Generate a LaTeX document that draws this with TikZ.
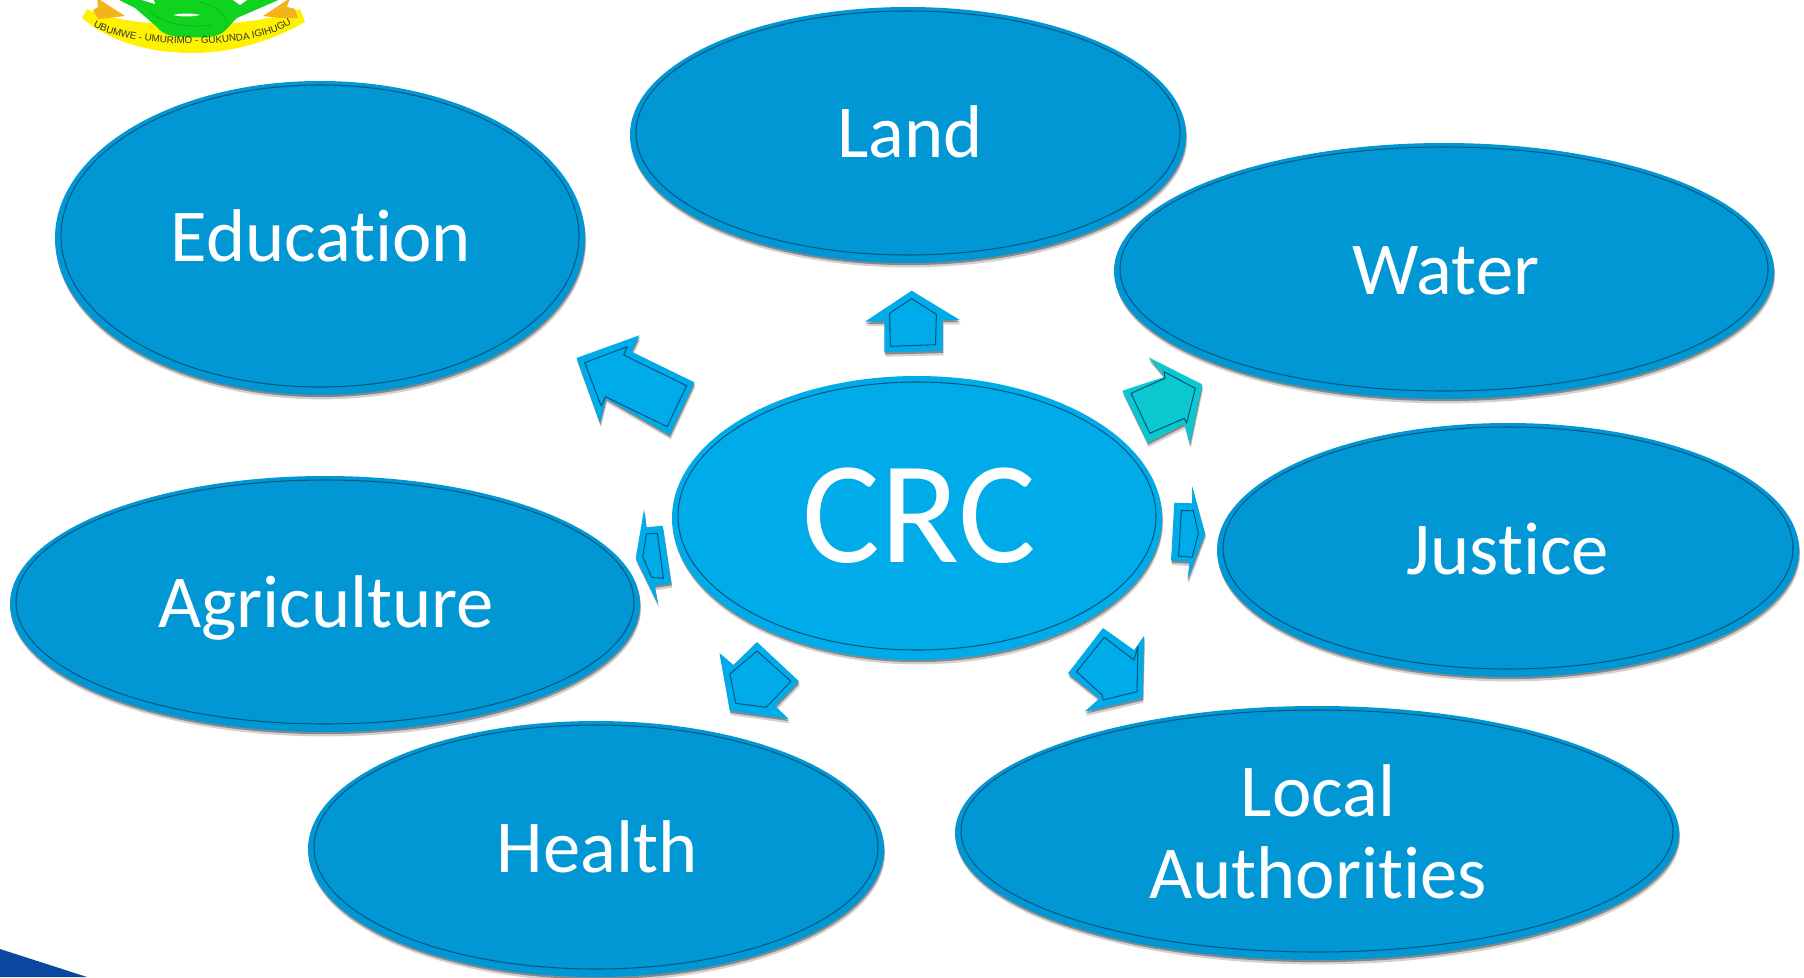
\documentclass[tikz,border=0pt]{standalone}
\usepackage{fontspec}
\usepackage{tikz}
\usetikzlibrary{shapes.geometric}
\usetikzlibrary{shadows}
\usetikzlibrary{decorations.text}
\setmainfont[Ligatures=NoCommon]{Carlito}
\newfontfamily\mottofont{Liberation Sans}
\definecolor{sectorblue}{HTML}{0097D4}
\definecolor{corecyan}{HTML}{00ABEA}
\definecolor{arrowteal}{HTML}{0BC8D0}
\definecolor{ringdark}{HTML}{00597F}
\definecolor{cornerblue}{HTML}{0A479F}
\definecolor{knotgreen}{HTML}{0FD31F}
\definecolor{knotdark}{HTML}{0BB81A}
\definecolor{ribbonyellow}{HTML}{FFF200}
\definecolor{ribbonorange}{HTML}{F3B41B}
\tikzset{
    softshadow/.style={drop shadow={shadow xshift=0.6pt,shadow yshift=-2.5pt,opacity=.18,fill=black},
        drop shadow={shadow xshift=0.3pt,shadow yshift=-1.2pt,opacity=.35,fill=black}},
    sector/.style={ellipse,fill=sectorblue,inner sep=0pt,softshadow},
    core/.style={sector,fill=corecyan},
    sectorlabel/.style={inner sep=0pt,text=white,align=center,font=\fontsize{42.5}{47}\selectfont},
    corelabel/.style={sectorlabel,font=\fontsize{83}{83}\selectfont},
    ring/.style={draw=ringdark,line width=0.6pt},
    blockarrow/.style={fill=corecyan,softshadow},
    tealarrow/.style={fill=arrowteal,softshadow},
}
\begin{document}
\begin{tikzpicture}[line cap=round,line join=round,x=0.02cm,y=-0.02cm]
        \useasboundingbox (0,0) rectangle (1804,977);

        \begin{scope}
            \clip (0,0) rectangle (1804,977);

            \fill[ribbonyellow] (82,18) -- (87,9) .. controls (130,30) and (250,30) .. (300,9)
                -- (305,22) .. controls (270,42) and (230,53) .. (193,53)
                .. controls (150,53) and (110,42) .. (82,18) -- cycle;
            \fill[ribbonorange] (97,-2) -- (125,16) -- (108,18) -- (98,19) -- (93,10) -- (98,7) -- cycle;
            \fill[ribbonorange] (290,-2) -- (263,16) -- (280,18) -- (298,18) -- (295,9) -- (287,7) -- cycle;
            \fill[knotgreen] (115,-2) -- (135,8) -- (157,27) .. controls (162,34) and (172,37) .. (183,37)
                .. controls (200,38) and (214,38) .. (222,33) .. controls (230,27) and (232,22) .. (237,18)
                -- (283,-2) -- cycle;
            \fill[white] (135,-2) -- (155,4) -- (153,-2) -- cycle;
            \fill[white] (230,-2) -- (240,5) -- (250,-2) -- cycle;
            \fill[white] (173,15) .. controls (182,13) and (192,13) .. (200,15) .. controls (192,17) and (182,17) .. (173,15) -- cycle;
            \draw[knotdark,line width=0.5pt] (150,12) .. controls (165,24) and (185,28) .. (212,25);
            \draw[knotdark,line width=0.5pt] (200,2) .. controls (218,8) and (230,14) .. (225,30);
            \path[decorate,decoration={text along path,text align=center,
                text={|\mottofont\fontsize{5.6}{6}\selectfont\color{black!80}|UBUMWE - UMURIMO - GUKUNDA IGIHUGU}}]
                (94,27) .. controls (130,48) and (250,52) .. (291,24);

            \fill[cornerblue] (0,949) -- (87,977) -- (0,977) -- cycle;

            \node[sector,minimum width=556*0.02cm,minimum height=256*0.02cm] (land) at (908,135) {};
            \draw[ring] (908,133) ellipse (272 and 122);
            \node[sectorlabel] (landtext) at (910,131.5) {Land};
            \node[sector,minimum width=530*0.02cm,minimum height=314*0.02cm] (education) at (320,238) {};
            \draw[ring] (320,236) ellipse (259 and 151);
            \node[sectorlabel] (educationtext) at (321,236) {Education};
            \node[sector,minimum width=660*0.02cm,minimum height=256*0.02cm] (water) at (1444,271) {};
            \draw[ring] (1444,269) ellipse (324 and 122);
            \node[sectorlabel] (watertext) at (1446,271) {Water};
            \node[sector,minimum width=582*0.02cm,minimum height=254*0.02cm] (justice) at (1508,550) {};
            \draw[ring] (1508,548) ellipse (285 and 121);
            \node[sectorlabel] (justicetext) at (1508,549) {Justice};
            \node[sector,minimum width=724*0.02cm,minimum height=254*0.02cm] (local) at (1317,833) {};
            \draw[ring] (1317,831) ellipse (356 and 121);
            \node[sectorlabel] (localtext) at (1318,832) {Local\\Authorities};
            \node[sector,minimum width=576*0.02cm,minimum height=256*0.02cm] (health) at (596,849) {};
            \draw[ring] (596,847) ellipse (282 and 122);
            \node[sectorlabel] (healthtext) at (597,847) {Health};
            \node[sector,minimum width=630*0.02cm,minimum height=256*0.02cm] (agriculture) at (325,604) {};
            \draw[ring] (325,602) ellipse (309 and 122);
            \node[sectorlabel] (agriculturetext) at (326,607.5) {Agriculture};
            \node[core,minimum width=490*0.02cm,minimum height=284*0.02cm] (crc) at (917,518) {};
            \draw[ring] (917,516) ellipse (239 and 134);
            \node[corelabel] (crctext) at (919,516) {CRC};

            \fill[blockarrow] (911.7,290.7) -- (959.8,320) -- (942.5,320) -- (942.5,351) -- (884.4,352.3) -- (884.4,321.7) -- (864.9,321.7) -- cycle;
            \draw[ring] (911.7,298.7) -- (936.4,314.3) -- (935.5,344.7) -- (890.4,346.3) -- (889.6,313.3) -- cycle;

            \fill[blockarrow] (576.5,358) -- (639.4,335.3) -- (631.6,351.7) -- (694.4,382.3) -- (669.7,435) -- (606,398.3) -- (599.9,422.7) -- cycle;
            \draw[ring] (584.7,362.7) -- (627.2,346.7) -- (623.7,355) -- (686.6,385.7) -- (667.1,426.7) -- (605.5,396.7) -- (601.2,406) -- cycle;

            \fill[tealarrow] (1202.2,384.3) -- (1148.5,357.3) -- (1165,376.7) -- (1122.4,390.7) -- (1147.6,442.7) -- (1184.4,424) -- (1189.7,444) -- cycle;
            \draw[ring] (1195.3,388.3) -- (1164,371.7) -- (1165,378.3) -- (1131,393.3) -- (1149.8,433.3) -- (1184.4,418.3) -- (1186.6,423.3) -- cycle;

            \fill[blockarrow] (1192,485.7) -- (1205,533.3) -- (1187.3,580) -- (1189.7,561.7) -- (1171,560.7) -- (1174.3,502.7) -- (1192,503.3) -- cycle;
            \draw[ring] (1181.4,510.7) -- (1193.2,510.7) -- (1198.4,533.3) -- (1192,557.3) -- (1178.6,556) -- cycle;

            \fill[blockarrow] (644,509.3) -- (646.4,527.3) -- (662.6,525.7) -- (671.3,583.3) -- (654.7,585.7) -- (657.8,603.3) -- (635.7,558.3) -- cycle;
            \draw[ring] (646.4,534) -- (657.4,533.3) -- (663.4,578.3) -- (651.5,577.3) -- (642.8,556.7) -- cycle;

            \fill[blockarrow] (719.5,653) -- (733.4,665) -- (757,642) -- (799,681.3) -- (775.3,706) -- (788.7,719) -- (729.8,710.7) -- cycle;
            \draw[ring] (729.8,674) -- (757,651) -- (791,681.3) -- (766.2,707.3) -- (735.7,703.3) -- cycle;

            \fill[blockarrow] (1103,628) -- (1134,650) -- (1144,636) -- (1142.6,698.3) -- (1084.5,711.7) -- (1099.5,698.3) -- (1068,673.3) -- cycle;
            \draw[ring] (1104.3,637.3) -- (1133.9,660) -- (1137.9,646.7) -- (1137,691.7) -- (1103,700) -- (1102.3,695) -- (1076.6,671.7) -- cycle;
        \end{scope}
    \end{tikzpicture}
\end{document}
